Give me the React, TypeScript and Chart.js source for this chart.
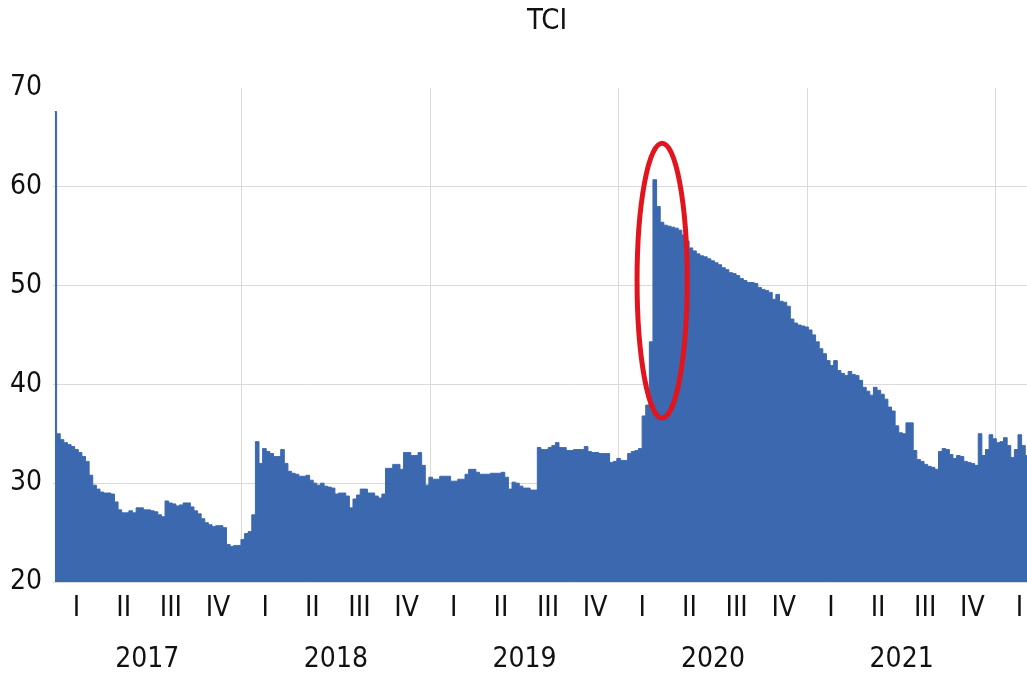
import { useEffect, useRef } from 'react';
import { Chart, registerables } from 'chart.js';

Chart.register(...registerables);

// ---------- data ----------
const chartTitle = 'TCI';
const startYear = 2017;
const yearLabels = [2017, 2018, 2019, 2020, 2021];
const yearBoundaries = [2018, 2019, 2020, 2021, 2022];
const quarterLabels = ['I', 'II', 'III', 'IV'];
const quarterYears = [2017, 2018, 2019, 2020, 2021, 2022];
const yMin = 20;
const yMax = 70;
const yStep = 10;

// weekly TCI values (consecutive weeks starting the first week of 2017)
const tci2017 = [
  67.6, 35.0, 34.4, 34.1, 33.9, 33.7, 33.4, 33.1, 32.7, 32.2, 30.8, 29.8, 29.4,
  29.1, 29.0, 29.0, 28.9, 28.1, 27.3, 27.0, 27.0, 27.2, 27.0, 27.5, 27.5, 27.3,
  27.3, 27.2, 27.1, 26.8, 26.6, 28.2, 28.0, 27.9, 27.7, 27.8, 28.0, 28.0, 27.6,
  27.2, 26.9, 26.4, 26.0, 25.8, 25.6, 25.7, 25.7, 25.5, 23.8, 23.6, 23.7, 23.7,
];
const tci2018 = [
  24.3, 24.9, 25.1, 26.8, 34.2, 32.0, 33.5, 33.2, 33.0, 32.7, 32.7, 33.4, 32.0,
  31.2, 31.0, 30.9, 30.7, 30.7, 30.8, 30.3, 30.0, 29.8, 30.0, 29.7, 29.6, 29.5,
  28.9, 29.0, 29.0, 28.7, 27.5, 28.4, 28.8, 29.4, 29.4, 29.0, 29.0, 28.7, 28.5,
  28.9, 31.5, 31.5, 31.9, 31.9, 31.4, 33.1, 33.1, 32.8, 32.8, 33.1, 31.8, 29.8,
];
const tci2019 = [
  30.6, 30.4, 30.4, 30.7, 30.7, 30.7, 30.2, 30.2, 30.4, 30.4, 30.9, 31.4, 31.4,
  31.1, 30.9, 30.9, 30.9, 31.0, 31.0, 31.0, 31.1, 30.6, 29.4, 30.1, 30.0, 29.7,
  29.5, 29.5, 29.3, 29.3, 33.6, 33.4, 33.4, 33.6, 33.8, 34.1, 33.6, 33.6, 33.3,
  33.3, 33.4, 33.4, 33.4, 33.7, 33.2, 33.1, 33.1, 33.0, 33.0, 33.0, 32.1, 32.2,
];
const tci2020 = [
  32.5, 32.3, 32.3, 33.0, 33.2, 33.3, 33.5, 36.8, 37.9, 44.3, 60.7, 58.0, 56.4,
  56.1, 56.0, 55.9, 55.8, 55.6, 55.1, 54.5, 53.8, 53.5, 53.2, 53.0, 52.9, 52.7,
  52.5, 52.3, 52.1, 51.8, 51.6, 51.3, 51.2, 51.0, 50.7, 50.5, 50.3, 50.3, 50.2,
  49.8, 49.6, 49.5, 49.3, 48.6, 49.1, 48.4, 48.3, 47.9, 46.6, 46.2, 46.0, 45.9,
];
const tci2021 = [
  45.8, 45.5, 45.0, 44.3, 43.6, 43.1, 42.4, 41.9, 42.4, 41.4, 41.1, 40.9, 41.3,
  41.0, 40.9, 40.4, 39.7, 39.3, 38.9, 39.7, 39.4, 39.0, 38.5, 37.7, 37.3, 35.8,
  35.1, 35.0, 36.1, 36.1, 33.3, 32.4, 32.2, 31.9, 31.7, 31.6, 31.4, 33.2, 33.5,
  33.4, 32.9, 32.5, 32.8, 32.7, 32.2, 32.1, 32.0, 31.8, 35.0, 32.8, 33.4, 34.9,
];
const tci2022 = [34.5, 34.1, 34.2, 34.6, 33.8, 32.6, 33.4, 34.9, 33.8, 32.8];

// red ellipse highlighting the 2020 jump, in data units (years, TCI)
const highlight = { cx: 2020.23, cy: 50.5, rx: 0.133, ry: 13.9 };

// ---------- derived ----------
const tciValues = [...tci2017, ...tci2018, ...tci2019, ...tci2020, ...tci2021, ...tci2022];
const weekInYears = 7 / 365.25;
const points = tciValues.map((v, i) => ({ x: startYear + (i + 0.5) * weekInYears, y: v }));
const xMin = startYear;
const xMax = 2022.467;

const quarterTicks: { value: number; label: string }[] = [];
quarterYears.forEach((yr) => {
  quarterLabels.forEach((q, qi) => {
    const v = yr + (qi + 0.5) / 4;
    if (v < xMax) quarterTicks.push({ value: v, label: q });
  });
});
const yearTicks = yearLabels.map((yr) => ({ value: yr + 0.5, label: String(yr) }));

const FONT = "'Liberation Sans Narrow', 'DejaVu Sans Condensed', 'Open Sans', sans-serif";
const TEXT = '#111111';
const GRID = '#dadada';
const FILL = '#3b68af';

const ellipsePlugin = {
  id: 'highlightEllipse',
  afterDatasetsDraw(chart: any) {
    const { ctx, scales } = chart;
    const x = scales.x;
    const y = scales.y;
    const cx = x.getPixelForValue(highlight.cx);
    const cy = y.getPixelForValue(highlight.cy);
    const rx = x.getPixelForValue(highlight.cx + highlight.rx) - cx;
    const ry = cy - y.getPixelForValue(highlight.cy + highlight.ry);
    ctx.save();
    ctx.beginPath();
    ctx.ellipse(cx, cy, rx, ry, 0, 0, Math.PI * 2);
    ctx.lineWidth = 5;
    ctx.strokeStyle = '#e2151e';
    ctx.stroke();
    ctx.restore();
  },
};

export default function App() {
  const ref = useRef<HTMLCanvasElement>(null);

  useEffect(() => {
    if (!ref.current) return;
    const chart = new Chart(ref.current, {
      type: 'line',
      data: {
        datasets: [
          {
            label: chartTitle,
            data: points,
            stepped: 'middle',
            fill: 'start',
            backgroundColor: FILL,
            borderColor: FILL,
            borderWidth: 1,
            pointRadius: 0,
            tension: 0,
          },
        ],
      },
      options: {
        responsive: false,
        animation: false,
        events: [],
        layout: { padding: { left: 10, right: 16, top: 0, bottom: 0 } },
        plugins: {
          legend: { display: false },
          tooltip: { enabled: false },
          title: {
            display: true,
            text: chartTitle,
            color: TEXT,
            font: { family: FONT, size: 29, weight: 'normal' },
            padding: { top: 4, bottom: 49 },
          },
        },
        scales: {
          y: {
            type: 'linear',
            position: 'left',
            min: yMin,
            max: yMax,
            ticks: {
              stepSize: yStep,
              color: TEXT,
              crossAlign: 'far',
              font: { family: FONT, size: 28 },
            },
            grid: {
              color: (c: any) => (c.tick && c.tick.value === yMax ? 'rgba(0,0,0,0)' : GRID),
              drawTicks: false,
            },
            border: { display: false },
            afterFit: (s: any) => {
              s.width = 43;
            },
          },
          xg: {
            type: 'linear',
            position: 'bottom',
            weight: 0,
            min: xMin,
            max: xMax,
            afterBuildTicks: (s: any) => {
              s.ticks = yearBoundaries.map((v) => ({ value: v }));
            },
            ticks: { display: false, autoSkip: false },
            grid: { color: GRID, drawTicks: false },
            border: { display: false },
            afterFit: (s: any) => {
              s.height = 0;
            },
          },
          x: {
            type: 'linear',
            position: 'bottom',
            weight: 1,
            min: xMin,
            max: xMax,
            afterBuildTicks: (s: any) => {
              s.ticks = quarterTicks.map((t) => ({ value: t.value }));
            },
            ticks: {
              autoSkip: false,
              maxRotation: 0,
              minRotation: 0,
              padding: 10,
              color: TEXT,
              font: { family: FONT, size: 28 },
              callback: (_v: any, i: number) => quarterTicks[i].label,
            },
            grid: { display: false, drawTicks: false },
            border: { display: false },
            afterFit: (s: any) => {
              s.height = 44;
            },
          },
          x2: {
            type: 'linear',
            position: 'bottom',
            weight: 2,
            min: xMin,
            max: xMax,
            afterBuildTicks: (s: any) => {
              s.ticks = yearTicks.map((t) => ({ value: t.value }));
            },
            ticks: {
              autoSkip: false,
              maxRotation: 0,
              minRotation: 0,
              padding: 17,
              color: TEXT,
              font: { family: FONT, size: 28 },
              callback: (_v: any, i: number) => yearTicks[i].label,
            },
            grid: { display: false, drawTicks: false },
            border: { display: false },
            afterFit: (s: any) => {
              s.height = 51;
            },
          },
        },
      },
      plugins: [ellipsePlugin],
    } as any);
    return () => chart.destroy();
  }, []);

  return (
    <div
      style={{
        position: 'fixed',
        left: 0,
        top: 0,
        width: 1027,
        height: 677,
        overflow: 'hidden',
        background: '#ffffff',
      }}
    >
      <canvas ref={ref} width={1100} height={677} style={{ display: 'block' }} />
    </div>
  );
}
